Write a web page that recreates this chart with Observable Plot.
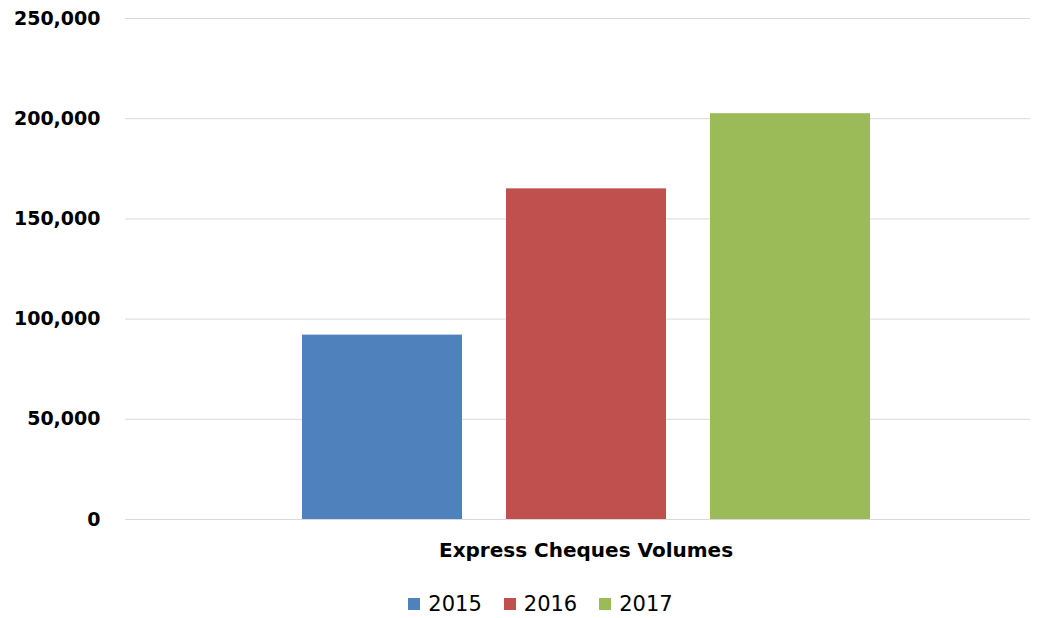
<!DOCTYPE html>
<html>
<head>
<meta charset="utf-8">
<script src="https://cdn.jsdelivr.net/npm/d3@7"></script>
<script src="https://cdn.jsdelivr.net/npm/@observablehq/plot@0.6"></script>
<style>
  html, body { margin: 0; padding: 0; background: #fff; overflow: hidden; }
  #legend { box-sizing: border-box; display: flex; justify-content: center; align-items: center; height: 43px; padding-left: 44px; padding-top: 15px; font-family: "DejaVu Sans", sans-serif; font-size: 21px; line-height: 1; color: #000; }
  .item { display: flex; align-items: center; margin-right: 22px; }
  .item:last-child { margin-right: 0; }
  .sw { width: 12px; height: 12px; margin-right: 8px; }
</style>
</head>
<body>
<div id="chart"></div>
<div id="legend"></div>
<script>
const category = "Express Cheques Volumes";
const years = ["2015", "2016", "2017"];
const volumes = [92000, 165000, 202500];
const colors = ["#4F81BD", "#C0504D", "#9BBB59"];
const yTicks = [0, 50000, 100000, 150000, 200000, 250000];

const data = years.map((y, i) => ({category, year: y, value: volumes[i]}));

const chart = Plot.plot({
  width: 1037,
  height: 575,
  marginLeft: 125,
  marginRight: 7,
  marginTop: 18,
  marginBottom: 56,
  style: {fontFamily: "DejaVu Sans, sans-serif", color: "#000", background: "#fff"},
  fx: {domain: [category], padding: 0, label: null, axis: null},
  x: {domain: years, paddingInner: 0.216, paddingOuter: 0.826, align: 0.525, axis: null},
  y: {domain: [0, 250000], label: null},
  color: {domain: years, range: colors},
  marks: [
    Plot.gridY(yTicks, {stroke: "#d9d9d9", strokeOpacity: 1, strokeWidth: 1}),
    Plot.barY(data, {fx: "category", x: "year", y: "value", fill: "year"}),
    Plot.axisY(yTicks, {tickFormat: d3.format(","), tickSize: 0, tickPadding: 25, fontSize: 19, fontWeight: "bold", label: null}),
    Plot.axisFx({anchor: "bottom", tickSize: 0, tickPadding: 23, dx: 8, fontSize: 20, fontWeight: "bold", label: null})
  ]
});
document.getElementById("chart").appendChild(chart);

const legend = document.getElementById("legend");
years.forEach((y, i) => {
  const item = document.createElement("div");
  item.className = "item";
  const sw = document.createElement("div");
  sw.className = "sw";
  sw.style.background = colors[i];
  const t = document.createElement("span");
  t.textContent = y;
  item.appendChild(sw);
  item.appendChild(t);
  legend.appendChild(item);
});
</script>
</body>
</html>
